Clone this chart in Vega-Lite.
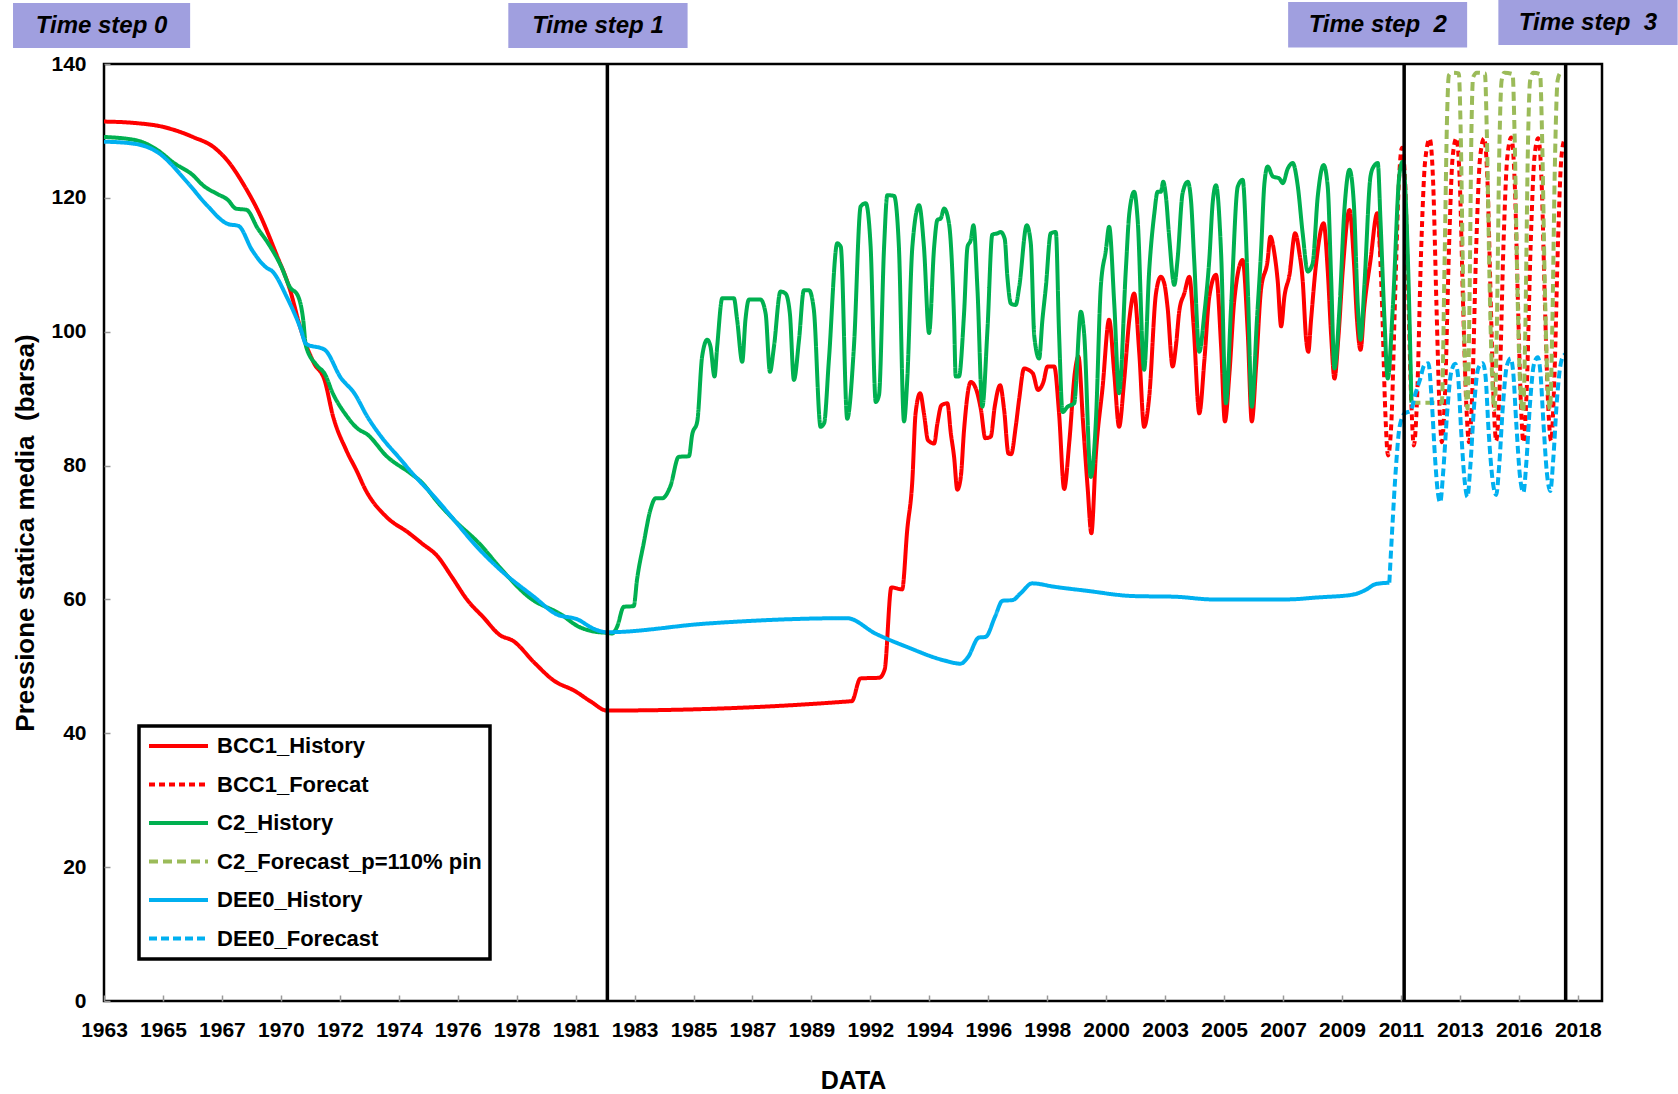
{
  "$schema": "https://vega.github.io/schema/vega-lite/v6.json",
  "width": 1498,
  "height": 937,
  "autosize": {"type": "none"},
  "padding": {"left": 104, "top": 64, "right": 76, "bottom": 93},
  "background": "white",
  "config": {
    "font": "Liberation Sans",
    "view": {"stroke": "#000", "strokeWidth": 2.5},
    "axis": {"grid": false, "domain": false, "labelColor": "#000", "titleColor": "#000", "labelFont": "Liberation Sans", "titleFont": "Liberation Sans", "labelFontWeight": "bold", "titleFontWeight": "bold", "labelFontSize": 21, "titleFontSize": 25, "tickColor": "#999", "tickWidth": 1.5, "tickSize": -6},
    "legend": {"strokeWidth": 3.5}
  },
  "datasets": {
    "lines": [
      {"s":"BCC1_History","x":1963.6,"y":131.4},{"s":"BCC1_History","x":1964.7,"y":131.2},{"s":"BCC1_History","x":1965.8,"y":130.6},{"s":"BCC1_History","x":1966.9,"y":129.1},{"s":"BCC1_History","x":1967.7,"y":127.5},{"s":"BCC1_History","x":1968.2,"y":125.5},{"s":"BCC1_History","x":1968.8,"y":121.9},{"s":"BCC1_History","x":1969.4,"y":117.4},{"s":"BCC1_History","x":1970.0,"y":111.6},{"s":"BCC1_History","x":1970.5,"y":106.4},{"s":"BCC1_History","x":1970.9,"y":100.5},{"s":"BCC1_History","x":1971.4,"y":95.3},{"s":"BCC1_History","x":1971.8,"y":92.7},{"s":"BCC1_History","x":1972.1,"y":87.5},{"s":"BCC1_History","x":1972.6,"y":82.3},{"s":"BCC1_History","x":1973.0,"y":79.1},{"s":"BCC1_History","x":1973.3,"y":76.5},{"s":"BCC1_History","x":1974.1,"y":72.3},{"s":"BCC1_History","x":1974.9,"y":70.0},{"s":"BCC1_History","x":1975.4,"y":68.4},{"s":"BCC1_History","x":1976.0,"y":66.4},{"s":"BCC1_History","x":1976.5,"y":63.5},{"s":"BCC1_History","x":1977.1,"y":59.9},{"s":"BCC1_History","x":1977.7,"y":57.3},{"s":"BCC1_History","x":1978.3,"y":54.7},{"s":"BCC1_History","x":1978.8,"y":53.8},{"s":"BCC1_History","x":1979.6,"y":50.5},{"s":"BCC1_History","x":1980.3,"y":47.9},{"s":"BCC1_History","x":1981.1,"y":46.3},{"s":"BCC1_History","x":1981.7,"y":44.7},{"s":"BCC1_History","x":1982.28,"y":43.4},
      {"s":"BCC1_History","x":1991.38,"y":44.8},{"s":"BCC1_History","x":1991.7,"y":48.2},{"s":"BCC1_History","x":1992.4,"y":48.3},{"s":"BCC1_History","x":1992.6,"y":49.5},{"s":"BCC1_History","x":1992.85,"y":61.8},{"s":"BCC1_History","x":1993.25,"y":61.5},{"s":"BCC1_History","x":1993.44,"y":70.4},{"s":"BCC1_History","x":1993.63,"y":77.8},{"s":"BCC1_History","x":1993.75,"y":87.8},{"s":"BCC1_History","x":1993.92,"y":90.8},{"s":"BCC1_History","x":1994.06,"y":87.8},{"s":"BCC1_History","x":1994.21,"y":83.8},{"s":"BCC1_History","x":1994.44,"y":83.3},{"s":"BCC1_History","x":1994.56,"y":86.3},{"s":"BCC1_History","x":1994.71,"y":89.0},{"s":"BCC1_History","x":1994.93,"y":89.3},{"s":"BCC1_History","x":1995.06,"y":84.8},{"s":"BCC1_History","x":1995.18,"y":81.3},{"s":"BCC1_History","x":1995.3,"y":76.4},{"s":"BCC1_History","x":1995.43,"y":78.3},{"s":"BCC1_History","x":1995.55,"y":85.3},{"s":"BCC1_History","x":1995.8,"y":92.5},{"s":"BCC1_History","x":1995.99,"y":91.5},{"s":"BCC1_History","x":1996.18,"y":88.3},{"s":"BCC1_History","x":1996.34,"y":84.1},{"s":"BCC1_History","x":1996.54,"y":84.3},{"s":"BCC1_History","x":1996.69,"y":88.8},{"s":"BCC1_History","x":1996.89,"y":92.0},{"s":"BCC1_History","x":1997.04,"y":88.3},{"s":"BCC1_History","x":1997.2,"y":81.8},{"s":"BCC1_History","x":1997.3,"y":81.7},{"s":"BCC1_History","x":1997.47,"y":85.8},{"s":"BCC1_History","x":1997.6,"y":90.0},{"s":"BCC1_History","x":1997.78,"y":94.5},{"s":"BCC1_History","x":1998.1,"y":93.8},{"s":"BCC1_History","x":1998.3,"y":91.3},{"s":"BCC1_History","x":1998.5,"y":92.5},{"s":"BCC1_History","x":1998.65,"y":94.8},{"s":"BCC1_History","x":1998.9,"y":94.8},{"s":"BCC1_History","x":1999.08,"y":87.8},{"s":"BCC1_History","x":1999.27,"y":76.5},{"s":"BCC1_History","x":1999.46,"y":83.5},{"s":"BCC1_History","x":1999.67,"y":94.0},{"s":"BCC1_History","x":1999.8,"y":96.3},{"s":"BCC1_History","x":1999.97,"y":86.5},{"s":"BCC1_History","x":2000.14,"y":76.8},{"s":"BCC1_History","x":2000.28,"y":69.9},{"s":"BCC1_History","x":2000.45,"y":81.8},{"s":"BCC1_History","x":2000.7,"y":91.8},{"s":"BCC1_History","x":2000.94,"y":101.8},{"s":"BCC1_History","x":2001.13,"y":93.8},{"s":"BCC1_History","x":2001.31,"y":85.8},{"s":"BCC1_History","x":2001.5,"y":92.8},{"s":"BCC1_History","x":2001.69,"y":101.8},{"s":"BCC1_History","x":2001.87,"y":105.7},{"s":"BCC1_History","x":2002.06,"y":96.8},{"s":"BCC1_History","x":2002.24,"y":85.8},{"s":"BCC1_History","x":2002.43,"y":90.3},{"s":"BCC1_History","x":2002.68,"y":105.7},{"s":"BCC1_History","x":2002.86,"y":108.2},{"s":"BCC1_History","x":2002.99,"y":107.2},{"s":"BCC1_History","x":2003.11,"y":103.7},{"s":"BCC1_History","x":2003.3,"y":94.8},{"s":"BCC1_History","x":2003.42,"y":97.8},{"s":"BCC1_History","x":2003.55,"y":103.2},{"s":"BCC1_History","x":2003.73,"y":105.7},{"s":"BCC1_History","x":2003.92,"y":108.2},{"s":"BCC1_History","x":2004.08,"y":100.8},{"s":"BCC1_History","x":2004.29,"y":87.8},{"s":"BCC1_History","x":2004.48,"y":95.8},{"s":"BCC1_History","x":2004.66,"y":105.2},{"s":"BCC1_History","x":2004.91,"y":108.5},{"s":"BCC1_History","x":2005.1,"y":97.8},{"s":"BCC1_History","x":2005.24,"y":86.6},{"s":"BCC1_History","x":2005.41,"y":93.8},{"s":"BCC1_History","x":2005.59,"y":104.7},{"s":"BCC1_History","x":2005.9,"y":110.7},{"s":"BCC1_History","x":2006.09,"y":99.8},{"s":"BCC1_History","x":2006.24,"y":86.6},{"s":"BCC1_History","x":2006.4,"y":94.8},{"s":"BCC1_History","x":2006.58,"y":106.2},{"s":"BCC1_History","x":2006.83,"y":110.7},{"s":"BCC1_History","x":2006.93,"y":114.2},{"s":"BCC1_History","x":2007.08,"y":111.7},{"s":"BCC1_History","x":2007.2,"y":107.7},{"s":"BCC1_History","x":2007.33,"y":100.8},{"s":"BCC1_History","x":2007.45,"y":105.2},{"s":"BCC1_History","x":2007.64,"y":108.5},{"s":"BCC1_History","x":2007.85,"y":114.7},{"s":"BCC1_History","x":2008.01,"y":111.7},{"s":"BCC1_History","x":2008.13,"y":107.7},{"s":"BCC1_History","x":2008.26,"y":98.8},{"s":"BCC1_History","x":2008.34,"y":97.0},{"s":"BCC1_History","x":2008.44,"y":101.7},{"s":"BCC1_History","x":2008.63,"y":110.2},{"s":"BCC1_History","x":2008.91,"y":116.2},{"s":"BCC1_History","x":2009.06,"y":109.2},{"s":"BCC1_History","x":2009.19,"y":99.3},{"s":"BCC1_History","x":2009.31,"y":93.0},{"s":"BCC1_History","x":2009.46,"y":99.3},{"s":"BCC1_History","x":2009.62,"y":109.2},{"s":"BCC1_History","x":2009.87,"y":118.2},{"s":"BCC1_History","x":2010.03,"y":110.7},{"s":"BCC1_History","x":2010.15,"y":101.7},{"s":"BCC1_History","x":2010.28,"y":97.3},{"s":"BCC1_History","x":2010.42,"y":103.7},{"s":"BCC1_History","x":2010.65,"y":110.7},{"s":"BCC1_History","x":2010.9,"y":117.7},{"s":"BCC1_History","x":2011.02,"y":111.7},
      {"s":"BCC1_Forecat","x":2010.95,"y":116.5},{"s":"BCC1_Forecat","x":2011.08,"y":104},{"s":"BCC1_Forecat","x":2011.2,"y":88},{"s":"BCC1_Forecat","x":2011.3,"y":81.5},{"s":"BCC1_Forecat","x":2011.42,"y":86},{"s":"BCC1_Forecat","x":2011.57,"y":106},{"s":"BCC1_Forecat","x":2011.7,"y":122},{"s":"BCC1_Forecat","x":2011.82,"y":127.5},{"s":"BCC1_Forecat","x":2011.93,"y":123},{"s":"BCC1_Forecat","x":2012.05,"y":106},{"s":"BCC1_Forecat","x":2012.17,"y":89},{"s":"BCC1_Forecat","x":2012.26,"y":83},{"s":"BCC1_Forecat","x":2012.38,"y":90},{"s":"BCC1_Forecat","x":2012.53,"y":112},{"s":"BCC1_Forecat","x":2012.68,"y":125.5},{"s":"BCC1_Forecat","x":2012.85,"y":128.8},{"s":"BCC1_Forecat","x":2012.98,"y":122},{"s":"BCC1_Forecat","x":2013.1,"y":104},{"s":"BCC1_Forecat","x":2013.21,"y":89},{"s":"BCC1_Forecat","x":2013.3,"y":83.5},{"s":"BCC1_Forecat","x":2013.42,"y":91},{"s":"BCC1_Forecat","x":2013.57,"y":113},{"s":"BCC1_Forecat","x":2013.7,"y":126},{"s":"BCC1_Forecat","x":2013.84,"y":128.9},{"s":"BCC1_Forecat","x":2013.97,"y":122},{"s":"BCC1_Forecat","x":2014.09,"y":104},{"s":"BCC1_Forecat","x":2014.21,"y":89},{"s":"BCC1_Forecat","x":2014.31,"y":83.5},{"s":"BCC1_Forecat","x":2014.43,"y":91},{"s":"BCC1_Forecat","x":2014.58,"y":113},{"s":"BCC1_Forecat","x":2014.72,"y":126},{"s":"BCC1_Forecat","x":2014.87,"y":128.9},{"s":"BCC1_Forecat","x":2015.0,"y":122},{"s":"BCC1_Forecat","x":2015.12,"y":104},{"s":"BCC1_Forecat","x":2015.23,"y":89},{"s":"BCC1_Forecat","x":2015.32,"y":83.7},{"s":"BCC1_Forecat","x":2015.44,"y":91},{"s":"BCC1_Forecat","x":2015.59,"y":113},{"s":"BCC1_Forecat","x":2015.73,"y":126},{"s":"BCC1_Forecat","x":2015.88,"y":129},{"s":"BCC1_Forecat","x":2016.01,"y":122},{"s":"BCC1_Forecat","x":2016.13,"y":104},{"s":"BCC1_Forecat","x":2016.24,"y":89},{"s":"BCC1_Forecat","x":2016.33,"y":83.5},{"s":"BCC1_Forecat","x":2016.45,"y":91},{"s":"BCC1_Forecat","x":2016.6,"y":113},{"s":"BCC1_Forecat","x":2016.74,"y":126},{"s":"BCC1_Forecat","x":2016.88,"y":128.9},{"s":"BCC1_Forecat","x":2017.01,"y":122},{"s":"BCC1_Forecat","x":2017.13,"y":104},{"s":"BCC1_Forecat","x":2017.25,"y":89},{"s":"BCC1_Forecat","x":2017.36,"y":83.7},{"s":"BCC1_Forecat","x":2017.48,"y":93},{"s":"BCC1_Forecat","x":2017.62,"y":114},{"s":"BCC1_Forecat","x":2017.74,"y":126},{"s":"BCC1_Forecat","x":2017.86,"y":128.8},
      {"s":"C2_History","x":1963.6,"y":129.1},{"s":"C2_History","x":1964.8,"y":128.6},{"s":"C2_History","x":1965.6,"y":127.1},{"s":"C2_History","x":1966.2,"y":125.2},{"s":"C2_History","x":1966.9,"y":123.4},{"s":"C2_History","x":1967.3,"y":121.8},{"s":"C2_History","x":1967.8,"y":120.6},{"s":"C2_History","x":1968.2,"y":119.7},{"s":"C2_History","x":1968.5,"y":118.4},{"s":"C2_History","x":1968.9,"y":118.2},{"s":"C2_History","x":1969.3,"y":115.5},{"s":"C2_History","x":1969.7,"y":113.2},{"s":"C2_History","x":1970.2,"y":109.6},{"s":"C2_History","x":1970.5,"y":106.7},{"s":"C2_History","x":1970.8,"y":105.4},{"s":"C2_History","x":1971.0,"y":101.8},{"s":"C2_History","x":1971.1,"y":97.9},{"s":"C2_History","x":1971.5,"y":95.0},{"s":"C2_History","x":1971.8,"y":93.7},{"s":"C2_History","x":1972.1,"y":90.8},{"s":"C2_History","x":1972.6,"y":87.5},{"s":"C2_History","x":1973.0,"y":85.6},{"s":"C2_History","x":1973.4,"y":84.6},{"s":"C2_History","x":1974.1,"y":81.4},{"s":"C2_History","x":1975.0,"y":78.8},{"s":"C2_History","x":1975.4,"y":77.5},{"s":"C2_History","x":1976.0,"y":74.5},{"s":"C2_History","x":1976.6,"y":71.9},{"s":"C2_History","x":1977.6,"y":68.1},{"s":"C2_History","x":1978.3,"y":64.8},{"s":"C2_History","x":1979.4,"y":60.3},{"s":"C2_History","x":1980.6,"y":57.7},{"s":"C2_History","x":1981.2,"y":56.0},{"s":"C2_History","x":1981.8,"y":55.2},{"s":"C2_History","x":1982.3,"y":55.0},
      {"s":"C2_History","x":1982.48,"y":54.9},{"s":"C2_History","x":1982.66,"y":55.9},{"s":"C2_History","x":1982.91,"y":58.9},{"s":"C2_History","x":1983.28,"y":59.0},{"s":"C2_History","x":1983.4,"y":62.9},{"s":"C2_History","x":1983.65,"y":68.4},{"s":"C2_History","x":1983.9,"y":73.4},{"s":"C2_History","x":1984.09,"y":75.1},{"s":"C2_History","x":1984.33,"y":75.1},{"s":"C2_History","x":1984.64,"y":76.9},{"s":"C2_History","x":1984.95,"y":81.3},{"s":"C2_History","x":1985.33,"y":81.4},{"s":"C2_History","x":1985.45,"y":84.6},{"s":"C2_History","x":1985.64,"y":86.6},{"s":"C2_History","x":1985.82,"y":96.3},{"s":"C2_History","x":1986.01,"y":98.8},{"s":"C2_History","x":1986.13,"y":97.8},{"s":"C2_History","x":1986.28,"y":93.3},{"s":"C2_History","x":1986.38,"y":97.8},{"s":"C2_History","x":1986.57,"y":105.0},{"s":"C2_History","x":1987.0,"y":105.0},{"s":"C2_History","x":1987.12,"y":101.8},{"s":"C2_History","x":1987.31,"y":95.5},{"s":"C2_History","x":1987.43,"y":101.8},{"s":"C2_History","x":1987.56,"y":104.8},{"s":"C2_History","x":1987.99,"y":104.8},{"s":"C2_History","x":1988.18,"y":102.7},{"s":"C2_History","x":1988.34,"y":94.0},{"s":"C2_History","x":1988.49,"y":97.8},{"s":"C2_History","x":1988.73,"y":106.0},{"s":"C2_History","x":1988.92,"y":105.7},{"s":"C2_History","x":1989.08,"y":102.7},{"s":"C2_History","x":1989.23,"y":92.8},{"s":"C2_History","x":1989.42,"y":98.8},{"s":"C2_History","x":1989.6,"y":106.2},{"s":"C2_History","x":1989.79,"y":106.2},{"s":"C2_History","x":1989.97,"y":103.3},{"s":"C2_History","x":1990.22,"y":85.8},{"s":"C2_History","x":1990.35,"y":86.3},{"s":"C2_History","x":1990.53,"y":95.8},{"s":"C2_History","x":1990.84,"y":113.2},{"s":"C2_History","x":1990.97,"y":112.7},{"s":"C2_History","x":1991.21,"y":87.0},{"s":"C2_History","x":1991.46,"y":97.8},{"s":"C2_History","x":1991.71,"y":118.7},{"s":"C2_History","x":1991.9,"y":119.2},{"s":"C2_History","x":1992.08,"y":112.7},{"s":"C2_History","x":1992.27,"y":89.5},{"s":"C2_History","x":1992.39,"y":90.5},{"s":"C2_History","x":1992.58,"y":112.7},{"s":"C2_History","x":1992.7,"y":120.4},{"s":"C2_History","x":1992.95,"y":120.3},{"s":"C2_History","x":1993.13,"y":112.7},{"s":"C2_History","x":1993.32,"y":86.6},{"s":"C2_History","x":1993.44,"y":92.8},{"s":"C2_History","x":1993.63,"y":112.7},{"s":"C2_History","x":1993.88,"y":118.9},{"s":"C2_History","x":1994.06,"y":112.7},{"s":"C2_History","x":1994.25,"y":99.8},{"s":"C2_History","x":1994.44,"y":112.7},{"s":"C2_History","x":1994.56,"y":116.7},{"s":"C2_History","x":1994.68,"y":116.9},{"s":"C2_History","x":1994.81,"y":118.4},{"s":"C2_History","x":1994.99,"y":116.2},{"s":"C2_History","x":1995.18,"y":101.8},{"s":"C2_History","x":1995.24,"y":93.3},{"s":"C2_History","x":1995.36,"y":93.3},{"s":"C2_History","x":1995.55,"y":102.7},{"s":"C2_History","x":1995.68,"y":112.7},{"s":"C2_History","x":1995.8,"y":113.7},{"s":"C2_History","x":1995.9,"y":115.9},{"s":"C2_History","x":1996.05,"y":106.2},{"s":"C2_History","x":1996.23,"y":88.8},{"s":"C2_History","x":1996.42,"y":100.3},{"s":"C2_History","x":1996.6,"y":114.5},{"s":"C2_History","x":1996.79,"y":114.7},{"s":"C2_History","x":1996.91,"y":114.9},
      {"s":"C2_History","x":1997.06,"y":113.9},{"s":"C2_History","x":1997.16,"y":108.2},{"s":"C2_History","x":1997.29,"y":104.2},{"s":"C2_History","x":1997.47,"y":104.0},{"s":"C2_History","x":1997.6,"y":106.7},{"s":"C2_History","x":1997.88,"y":115.9},{"s":"C2_History","x":1998.03,"y":113.2},{"s":"C2_History","x":1998.16,"y":99.3},{"s":"C2_History","x":1998.34,"y":96.0},{"s":"C2_History","x":1998.46,"y":101.7},{"s":"C2_History","x":1998.59,"y":106.7},{"s":"C2_History","x":1998.77,"y":114.7},{"s":"C2_History","x":1998.96,"y":114.9},{"s":"C2_History","x":1999.08,"y":99.8},{"s":"C2_History","x":1999.21,"y":88.0},{"s":"C2_History","x":1999.4,"y":88.8},{"s":"C2_History","x":1999.64,"y":89.3},{"s":"C2_History","x":1999.89,"y":103.0},{"s":"C2_History","x":2000.01,"y":99.8},{"s":"C2_History","x":2000.26,"y":78.3},{"s":"C2_History","x":2000.45,"y":86.8},{"s":"C2_History","x":2000.63,"y":106.7},{"s":"C2_History","x":2000.82,"y":112.2},{"s":"C2_History","x":2000.94,"y":115.7},{"s":"C2_History","x":2001.13,"y":104.2},{"s":"C2_History","x":2001.31,"y":90.8},{"s":"C2_History","x":2001.56,"y":109.2},{"s":"C2_History","x":2001.69,"y":117.7},{"s":"C2_History","x":2001.87,"y":120.9},{"s":"C2_History","x":2002.0,"y":116.7},{"s":"C2_History","x":2002.24,"y":94.3},{"s":"C2_History","x":2002.43,"y":109.2},{"s":"C2_History","x":2002.62,"y":117.7},{"s":"C2_History","x":2002.74,"y":120.9},{"s":"C2_History","x":2002.86,"y":120.9},{"s":"C2_History","x":2002.95,"y":122.4},{"s":"C2_History","x":2003.05,"y":120.2},{"s":"C2_History","x":2003.17,"y":114.2},{"s":"C2_History","x":2003.36,"y":107.0},{"s":"C2_History","x":2003.48,"y":110.7},{"s":"C2_History","x":2003.67,"y":120.7},{"s":"C2_History","x":2003.86,"y":122.4},{"s":"C2_History","x":2003.98,"y":119.7},{"s":"C2_History","x":2004.1,"y":110.7},{"s":"C2_History","x":2004.29,"y":97.0},{"s":"C2_History","x":2004.48,"y":102.8},{"s":"C2_History","x":2004.66,"y":110.7},{"s":"C2_History","x":2004.79,"y":119.4},{"s":"C2_History","x":2004.91,"y":121.9},{"s":"C2_History","x":2005.1,"y":111.7},{"s":"C2_History","x":2005.28,"y":89.3},{"s":"C2_History","x":2005.47,"y":103.7},{"s":"C2_History","x":2005.72,"y":121.7},{"s":"C2_History","x":2005.9,"y":122.7},{"s":"C2_History","x":2006.09,"y":106.7},{"s":"C2_History","x":2006.24,"y":88.8},{"s":"C2_History","x":2006.43,"y":101.7},{"s":"C2_History","x":2006.58,"y":111.7},{"s":"C2_History","x":2006.71,"y":122.2},{"s":"C2_History","x":2006.83,"y":124.7},{"s":"C2_History","x":2007.02,"y":123.2},{"s":"C2_History","x":2007.26,"y":122.9},{"s":"C2_History","x":2007.39,"y":122.2},{"s":"C2_History","x":2007.58,"y":124.4},{"s":"C2_History","x":2007.76,"y":125.2},{"s":"C2_History","x":2007.95,"y":121.7},{"s":"C2_History","x":2008.13,"y":114.7},{"s":"C2_History","x":2008.32,"y":109.0},{"s":"C2_History","x":2008.5,"y":110.2},{"s":"C2_History","x":2008.69,"y":120.2},{"s":"C2_History","x":2008.91,"y":124.9},{"s":"C2_History","x":2009.06,"y":121.7},{"s":"C2_History","x":2009.19,"y":107.7},{"s":"C2_History","x":2009.31,"y":94.5},{"s":"C2_History","x":2009.5,"y":103.7},{"s":"C2_History","x":2009.68,"y":118.2},{"s":"C2_History","x":2009.87,"y":124.2},{"s":"C2_History","x":2010.03,"y":119.2},{"s":"C2_History","x":2010.18,"y":103.7},{"s":"C2_History","x":2010.28,"y":98.8},{"s":"C2_History","x":2010.42,"y":106.7},{"s":"C2_History","x":2010.65,"y":123.2},{"s":"C2_History","x":2010.77,"y":124.7},{"s":"C2_History","x":2010.92,"y":125.2},{"s":"C2_History","x":2011.02,"y":116.7},{"s":"C2_History","x":2011.17,"y":101.7},{"s":"C2_History","x":2011.29,"y":93.0},{"s":"C2_History","x":2011.48,"y":103.7},{"s":"C2_History","x":2011.73,"y":123.7},{"s":"C2_History","x":2011.85,"y":125.4},{"s":"C2_History","x":2012.04,"y":110.7},{"s":"C2_History","x":2012.17,"y":89.4},
      {"s":"C2_Forecast_p=110% pin","x":2012.17,"y":89.4},{"s":"C2_Forecast_p=110% pin","x":2013.3,"y":89.4},{"s":"C2_Forecast_p=110% pin","x":2013.4,"y":110},{"s":"C2_Forecast_p=110% pin","x":2013.5,"y":133},{"s":"C2_Forecast_p=110% pin","x":2013.56,"y":138.3},{"s":"C2_Forecast_p=110% pin","x":2013.7,"y":138.7},{"s":"C2_Forecast_p=110% pin","x":2013.93,"y":138.6},{"s":"C2_Forecast_p=110% pin","x":2014.0,"y":130},{"s":"C2_Forecast_p=110% pin","x":2014.08,"y":110},{"s":"C2_Forecast_p=110% pin","x":2014.17,"y":94},{"s":"C2_Forecast_p=110% pin","x":2014.25,"y":88.5},{"s":"C2_Forecast_p=110% pin","x":2014.33,"y":105},{"s":"C2_Forecast_p=110% pin","x":2014.4,"y":130},{"s":"C2_Forecast_p=110% pin","x":2014.46,"y":138},{"s":"C2_Forecast_p=110% pin","x":2014.6,"y":138.7},{"s":"C2_Forecast_p=110% pin","x":2014.9,"y":138.6},{"s":"C2_Forecast_p=110% pin","x":2014.97,"y":130},{"s":"C2_Forecast_p=110% pin","x":2015.07,"y":108},{"s":"C2_Forecast_p=110% pin","x":2015.17,"y":93},{"s":"C2_Forecast_p=110% pin","x":2015.26,"y":88.4},{"s":"C2_Forecast_p=110% pin","x":2015.34,"y":100},{"s":"C2_Forecast_p=110% pin","x":2015.44,"y":128},{"s":"C2_Forecast_p=110% pin","x":2015.52,"y":137.5},{"s":"C2_Forecast_p=110% pin","x":2015.62,"y":138.7},{"s":"C2_Forecast_p=110% pin","x":2015.93,"y":138.5},{"s":"C2_Forecast_p=110% pin","x":2016.0,"y":130},{"s":"C2_Forecast_p=110% pin","x":2016.1,"y":108},{"s":"C2_Forecast_p=110% pin","x":2016.2,"y":93},{"s":"C2_Forecast_p=110% pin","x":2016.32,"y":88},{"s":"C2_Forecast_p=110% pin","x":2016.4,"y":100},{"s":"C2_Forecast_p=110% pin","x":2016.5,"y":128},{"s":"C2_Forecast_p=110% pin","x":2016.58,"y":137.5},{"s":"C2_Forecast_p=110% pin","x":2016.7,"y":138.7},{"s":"C2_Forecast_p=110% pin","x":2016.95,"y":138.5},{"s":"C2_Forecast_p=110% pin","x":2017.02,"y":130},{"s":"C2_Forecast_p=110% pin","x":2017.12,"y":108},{"s":"C2_Forecast_p=110% pin","x":2017.22,"y":93},{"s":"C2_Forecast_p=110% pin","x":2017.32,"y":88.4},{"s":"C2_Forecast_p=110% pin","x":2017.4,"y":100},{"s":"C2_Forecast_p=110% pin","x":2017.5,"y":125},{"s":"C2_Forecast_p=110% pin","x":2017.6,"y":137.5},{"s":"C2_Forecast_p=110% pin","x":2017.7,"y":138.6},{"s":"C2_Forecast_p=110% pin","x":2017.86,"y":138.6},
      {"s":"DEE0_History","x":1963.6,"y":128.4},{"s":"DEE0_History","x":1964.7,"y":128.1},{"s":"DEE0_History","x":1965.6,"y":126.8},{"s":"DEE0_History","x":1966.7,"y":122.3},{"s":"DEE0_History","x":1967.4,"y":119.0},{"s":"DEE0_History","x":1968.2,"y":116.1},{"s":"DEE0_History","x":1968.6,"y":115.8},{"s":"DEE0_History","x":1969.1,"y":112.2},{"s":"DEE0_History","x":1969.7,"y":109.4},{"s":"DEE0_History","x":1969.8,"y":109.2},{"s":"DEE0_History","x":1970.4,"y":105.1},{"s":"DEE0_History","x":1970.9,"y":100.5},{"s":"DEE0_History","x":1971.1,"y":98.2},{"s":"DEE0_History","x":1971.8,"y":97.3},{"s":"DEE0_History","x":1972.4,"y":93.1},{"s":"DEE0_History","x":1972.9,"y":90.8},{"s":"DEE0_History","x":1973.4,"y":87.2},{"s":"DEE0_History","x":1973.9,"y":84.3},{"s":"DEE0_History","x":1974.6,"y":81.0},{"s":"DEE0_History","x":1975.0,"y":79.1},{"s":"DEE0_History","x":1975.9,"y":75.2},{"s":"DEE0_History","x":1976.6,"y":71.9},{"s":"DEE0_History","x":1977.4,"y":68.1},{"s":"DEE0_History","x":1978.3,"y":64.5},{"s":"DEE0_History","x":1979.6,"y":60.3},{"s":"DEE0_History","x":1980.4,"y":57.8},{"s":"DEE0_History","x":1981.2,"y":57.0},{"s":"DEE0_History","x":1981.8,"y":55.6},{"s":"DEE0_History","x":1982.3,"y":55.1},{"s":"DEE0_History","x":1986.0,"y":56.4},{"s":"DEE0_History","x":1991.2,"y":57.2},{"s":"DEE0_History","x":1992.26,"y":54.9},{"s":"DEE0_History","x":1993.43,"y":52.9},{"s":"DEE0_History","x":1994.8,"y":50.9},{"s":"DEE0_History","x":1995.42,"y":50.4},{"s":"DEE0_History","x":1995.7,"y":51.4},{"s":"DEE0_History","x":1996.1,"y":54.3},{"s":"DEE0_History","x":1996.35,"y":54.4},{"s":"DEE0_History","x":1996.7,"y":57.4},{"s":"DEE0_History","x":1996.98,"y":59.8},{"s":"DEE0_History","x":1997.35,"y":59.9},{"s":"DEE0_History","x":1997.65,"y":60.9},{"s":"DEE0_History","x":1998.08,"y":62.4},{"s":"DEE0_History","x":1998.9,"y":61.9},{"s":"DEE0_History","x":2000.09,"y":61.3},{"s":"DEE0_History","x":2001.85,"y":60.5},{"s":"DEE0_History","x":2003.41,"y":60.4},{"s":"DEE0_History","x":2004.78,"y":60.0},{"s":"DEE0_History","x":2006.15,"y":60.0},{"s":"DEE0_History","x":2007.52,"y":60.0},{"s":"DEE0_History","x":2008.7,"y":60.3},{"s":"DEE0_History","x":2009.97,"y":60.7},{"s":"DEE0_History","x":2010.46,"y":61.4},{"s":"DEE0_History","x":2010.85,"y":62.3},{"s":"DEE0_History","x":2011.35,"y":62.5},
      {"s":"DEE0_Forecast","x":2011.35,"y":62.5},{"s":"DEE0_Forecast","x":2011.45,"y":70},{"s":"DEE0_Forecast","x":2011.6,"y":80},{"s":"DEE0_Forecast","x":2011.73,"y":85.8},{"s":"DEE0_Forecast","x":2011.92,"y":87.8},{"s":"DEE0_Forecast","x":2012.15,"y":88.2},{"s":"DEE0_Forecast","x":2012.3,"y":90.5},{"s":"DEE0_Forecast","x":2012.5,"y":93},{"s":"DEE0_Forecast","x":2012.65,"y":95},{"s":"DEE0_Forecast","x":2012.8,"y":95.3},{"s":"DEE0_Forecast","x":2012.92,"y":90},{"s":"DEE0_Forecast","x":2013.05,"y":81},{"s":"DEE0_Forecast","x":2013.15,"y":76},{"s":"DEE0_Forecast","x":2013.24,"y":74.5},{"s":"DEE0_Forecast","x":2013.35,"y":79},{"s":"DEE0_Forecast","x":2013.5,"y":88},{"s":"DEE0_Forecast","x":2013.65,"y":94},{"s":"DEE0_Forecast","x":2013.8,"y":95.2},{"s":"DEE0_Forecast","x":2013.9,"y":93.5},{"s":"DEE0_Forecast","x":2014.02,"y":85},{"s":"DEE0_Forecast","x":2014.14,"y":78},{"s":"DEE0_Forecast","x":2014.25,"y":75.3},{"s":"DEE0_Forecast","x":2014.36,"y":80},{"s":"DEE0_Forecast","x":2014.5,"y":89},{"s":"DEE0_Forecast","x":2014.65,"y":94.5},{"s":"DEE0_Forecast","x":2014.82,"y":95.3},{"s":"DEE0_Forecast","x":2014.92,"y":93.5},{"s":"DEE0_Forecast","x":2015.04,"y":85},{"s":"DEE0_Forecast","x":2015.18,"y":78},{"s":"DEE0_Forecast","x":2015.32,"y":75.6},{"s":"DEE0_Forecast","x":2015.43,"y":80},{"s":"DEE0_Forecast","x":2015.57,"y":89},{"s":"DEE0_Forecast","x":2015.72,"y":95},{"s":"DEE0_Forecast","x":2015.86,"y":96},{"s":"DEE0_Forecast","x":2015.95,"y":94},{"s":"DEE0_Forecast","x":2016.07,"y":86},{"s":"DEE0_Forecast","x":2016.2,"y":78.5},{"s":"DEE0_Forecast","x":2016.33,"y":76},{"s":"DEE0_Forecast","x":2016.44,"y":80.5},{"s":"DEE0_Forecast","x":2016.58,"y":89.5},{"s":"DEE0_Forecast","x":2016.73,"y":95.3},{"s":"DEE0_Forecast","x":2016.87,"y":96.2},{"s":"DEE0_Forecast","x":2016.96,"y":94},{"s":"DEE0_Forecast","x":2017.08,"y":86},{"s":"DEE0_Forecast","x":2017.2,"y":79},{"s":"DEE0_Forecast","x":2017.33,"y":76.2},{"s":"DEE0_Forecast","x":2017.44,"y":81},{"s":"DEE0_Forecast","x":2017.58,"y":90},{"s":"DEE0_Forecast","x":2017.75,"y":95.8},{"s":"DEE0_Forecast","x":2017.9,"y":96.7}
    ],
    "steps": [{"x": 1982.3}, {"x": 2011.9}, {"x": 2017.9}],
    "boxes": [
      {"label": "Time step 0", "x": 1960.22, "x2": 1966.8, "y": 142.39, "y2": 149.11, "xm": 1963.51, "ym": 145.75},
      {"label": "Time step 1", "x": 1978.62, "x2": 1985.28, "y": 142.39, "y2": 149.11, "xm": 1981.95, "ym": 145.75},
      {"label": "Time step\u00a0 2", "x": 2007.59, "x2": 2014.24, "y": 142.46, "y2": 149.26, "xm": 2010.92, "ym": 145.86},
      {"label": "Time step\u00a0 3", "x": 2015.4, "x2": 2022.06, "y": 142.84, "y2": 149.56, "xm": 2018.73, "ym": 146.2}
    ]
  },
  "layer": [
    {
      "data": {"name": "lines"},
      "mark": {"type": "line", "strokeWidth": 4, "interpolate": "monotone"},
      "encoding": {
        "x": {"field": "x", "type": "quantitative", "title": "DATA",
          "scale": {"domain": [1963.6, 2019.25], "nice": false, "zero": false},
          "axis": {"values": [1963.6,1965.79,1967.98,1970.17,1972.36,1974.55,1976.74,1978.93,1981.12,1983.31,1985.5,1987.69,1989.88,1992.07,1994.26,1996.45,1998.64,2000.83,2003.02,2005.21,2007.4,2009.59,2011.78,2013.97,2016.16,2018.35],
            "labelExpr": "floor(datum.value)", "labelFlush": false, "labelOverlap": false, "labelPadding": 24, "titlePadding": 28}},
        "y": {"field": "y", "type": "quantitative", "title": "Pressione statica media\u00a0 (barsa)",
          "scale": {"domain": [0, 140], "nice": false},
          "axis": {"values": [0,20,40,60,80,100,120,140], "labelPadding": 24, "titlePadding": 12, "titleFontSize": 26}},
        "color": {"field": "s", "type": "nominal",
          "scale": {"domain": ["BCC1_History","BCC1_Forecat","C2_History","C2_Forecast_p=110% pin","DEE0_History","DEE0_Forecast"],
                    "range": ["#ff0000","#ff0000","#00b050","#9bbb59","#00b0f0","#00b0f0"]},
          "legend": {"title": null, "orient": "none", "legendX": 35, "legendY": 662, "direction": "vertical",
            "symbolType": "stroke", "symbolSize": 3481, "symbolStrokeWidth": 4, "clipHeight": 24, "rowPadding": 14.5,
            "padding": 8, "labelOffset": 7, "labelFontSize": 22, "labelFontWeight": "bold", "labelFont": "Liberation Sans",
            "labelColor": "#000", "labelLimit": 500, "strokeColor": "#000", "fillColor": "#fff"}},
        "strokeDash": {"field": "s", "type": "nominal",
          "scale": {"domain": ["BCC1_History","BCC1_Forecat","C2_History","C2_Forecast_p=110% pin","DEE0_History","DEE0_Forecast"],
                    "range": [[1,0],[6,4],[1,0],[9,5],[1,0],[8,4]]},
          "legend": {"title": null}}
      }
    },
    {
      "data": {"name": "steps"},
      "mark": {"type": "rule", "color": "#000", "strokeWidth": 3.5},
      "encoding": {"x": {"field": "x", "type": "quantitative", "title": "DATA"}}
    },
    {
      "data": {"name": "boxes"},
      "mark": {"type": "rect", "color": "#a09fdf", "opacity": 1},
      "encoding": {
        "x": {"field": "x", "type": "quantitative", "title": "DATA"},
        "x2": {"field": "x2"},
        "y": {"field": "y", "type": "quantitative", "title": "Pressione statica media\u00a0 (barsa)"},
        "y2": {"field": "y2"}
      }
    },
    {
      "data": {"name": "boxes"},
      "mark": {"type": "text", "font": "Liberation Sans", "fontSize": 24, "fontWeight": "bold", "fontStyle": "italic", "color": "#000", "align": "center", "baseline": "middle"},
      "encoding": {
        "x": {"field": "xm", "type": "quantitative", "title": "DATA"},
        "y": {"field": "ym", "type": "quantitative", "title": "Pressione statica media\u00a0 (barsa)"},
        "text": {"field": "label"}
      }
    }
  ]
}
